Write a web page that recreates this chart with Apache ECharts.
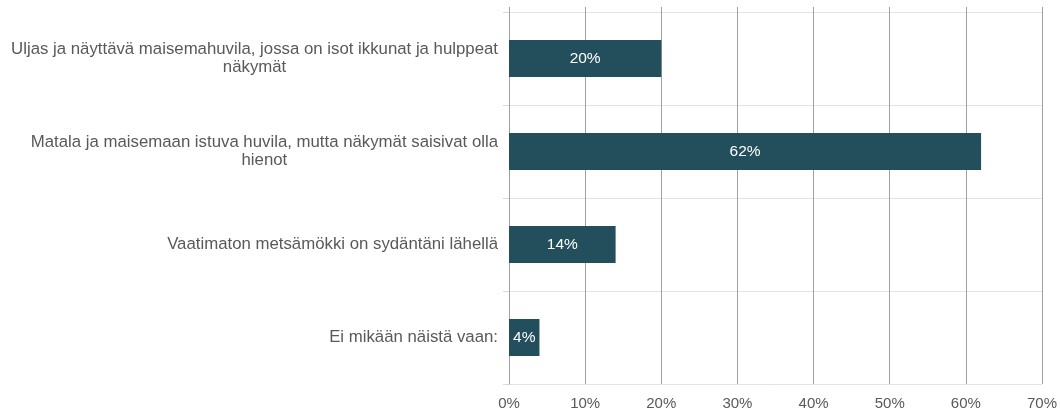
<!DOCTYPE html>
<html><head><meta charset="utf-8">
<script src="https://cdn.jsdelivr.net/npm/echarts@6/dist/echarts.min.js"></script>
<style>html,body{margin:0;padding:0;background:#fff}#c{width:1060px;height:414px}</style>
</head><body><div id="c"></div>
<script>
const categories = [
  "Uljas ja näyttävä maisemahuvila, jossa on isot ikkunat ja hulppeat\nnäkymät",
  "Matala ja maisemaan istuva huvila, mutta näkymät saisivat olla\nhienot",
  "Vaatimaton metsämökki on sydäntäni lähellä",
  "Ei mikään näistä vaan:"
];
const values = [20, 62, 14, 4];
const xTicks = { min: 0, max: 70, interval: 10 };

const font = "'Liberation Sans', Arial, sans-serif";
const chart = echarts.init(document.getElementById('c'));
chart.setOption({
  animation: false,
  grid: { left: 509, right: 18, top: 12, bottom: 30, containLabel: false },
  xAxis: [{
    type: 'value', min: xTicks.min, max: xTicks.max, interval: xTicks.interval,
    axisLine: { show: false }, axisTick: { show: false },
    axisLabel: { formatter: '{value}%', color: '#595959', fontSize: 15, fontFamily: font, margin: 12 },
    splitLine: { show: true, lineStyle: { color: '#a0a0a0', width: 1 } }
  }, {
    type: 'value', position: 'top', min: xTicks.min, max: xTicks.max, interval: xTicks.interval,
    axisLine: { show: false },
    axisTick: { show: true, length: 5, lineStyle: { color: '#a0a0a0' } },
    axisLabel: { show: false }, splitLine: { show: false }
  }],
  yAxis: {
    type: 'category', data: categories, inverse: true,
    axisLine: { show: true, lineStyle: { color: '#a0a0a0' } },
    axisTick: { show: true, length: 6, lineStyle: { color: '#d9d9d9' } },
    splitLine: { show: true, lineStyle: { color: '#e3e3e3' } },
    axisLabel: {
      margin: 11, color: '#595959', fontSize: 16.8, fontFamily: font, lineHeight: 18,
      formatter: v => v.split('\n').map(l => '{c|' + l + '}').join('\n'),
      rich: { c: { align: 'center', color: '#595959', fontSize: 16.8, fontFamily: font, lineHeight: 18 } }
    }
  },
  series: [{
    type: 'bar', data: values, xAxisIndex: 0, barWidth: '40%',
    itemStyle: { color: '#234e5b' },
    label: { show: true, position: 'inside', formatter: '{c}%', color: '#ffffff', fontSize: 15.5, fontFamily: font }
  }]
});
</script></body></html>
